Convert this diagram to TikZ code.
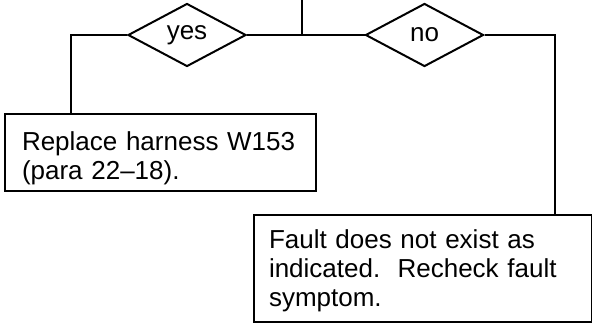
\documentclass[tikz,border=0pt]{standalone}
\usepackage{fontspec}
\setmainfont{Liberation Sans}
\usetikzlibrary{shapes.geometric}
% lift the first line so the text sits low in its box
\newcommand{\topgap}[1]{\rule{0pt}{#1}}

\begin{document}
\begin{tikzpicture}[
  x=1bp, y=-1bp,
  every node/.style={font=\fontsize{26bp}{29bp}\selectfont},
  line/.style={line width=2bp},
  choice/.style={draw, line width=2bp, diamond, minimum width=118bp,
                 minimum height=63bp, inner sep=0pt},
  action/.style={draw, line width=2bp, rectangle, anchor=north west,
                 align=left, inner ysep=0pt}
]
  \useasboundingbox (0,0) rectangle (592,322);

  \coordinate (in) at (302,0);
  \coordinate (split) at (302,35);
  \node[choice] (yes) at (187,35) {yes};
  \node[choice] (no) at (424.5,35) {no};

  \node[action, inner xsep=17bp, text width=277bp, minimum height=77bp]
    (harness) at (4,113)
    {\topgap{29.5bp}Replace harness W153\\(para 22--18).};
  \node[action, inner xsep=15bp, text width=308bp, minimum height=107bp]
    (recheck) at (253,214)
    {\topgap{22.5bp}Fault does not exist as\\indicated.\ \ Recheck fault\\symptom.};

  \draw[line] (in) -- (split);
  \draw[line] (split) -- (yes.east);
  \draw[line] (split) -- (no.west);
  \draw[line] (yes.west) -| ([xshift=67bp]harness.north west);
  \draw[line] (no.east) -| ([xshift=-38bp]recheck.north east);
\end{tikzpicture}
\end{document}
